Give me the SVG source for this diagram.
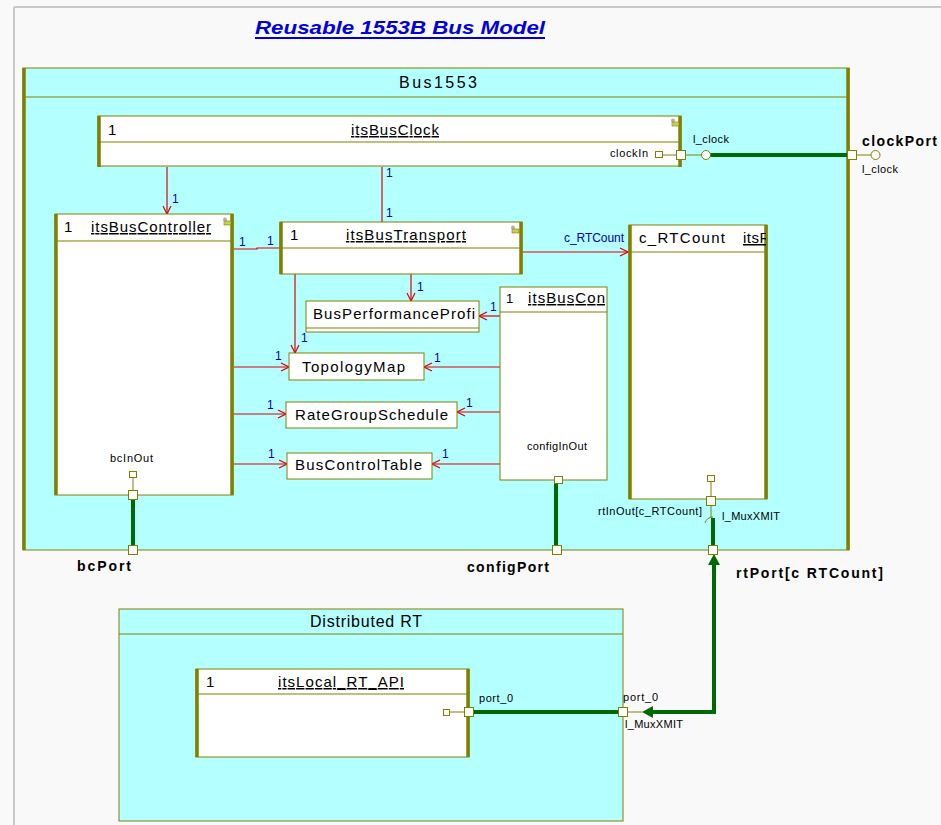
<svg xmlns="http://www.w3.org/2000/svg" width="941" height="825" viewBox="0 0 941 825">
<defs>
<style>
.t{font-family:"Liberation Sans",Arial,sans-serif;fill:#000}
.tt{font-size:15px}
.sm{font-size:11px}
.u{text-decoration:underline}
.bl{font-family:"Liberation Sans",Arial,sans-serif;font-size:12px;fill:#0000b0}
.bp{font-family:"Liberation Sans",Arial,sans-serif;font-size:14px;font-weight:bold;fill:#000}
.frame{fill:#b4ffff;stroke:#808000;stroke-width:1}
.box{fill:#fff;stroke:#808000;stroke-width:1}
.hl{stroke:#808000;stroke-width:1.2;fill:none}
.thick{stroke:#808000;stroke-width:3.5;fill:none}
.red{stroke:#e00000;stroke-width:1.2;fill:none}
.redA{stroke:#e00000;stroke-width:1.2;fill:none;marker-end:url(#open)}
.grn{stroke:#006a00;stroke-width:4;fill:none}
.pin{stroke:#808000;stroke-width:1;fill:none}
.ps{fill:#fff;stroke:#808000;stroke-width:1}
</style>
<marker id="open" viewBox="0 0 10 10" refX="9" refY="5" markerWidth="10" markerHeight="10" markerUnits="userSpaceOnUse" orient="auto">
<path d="M1,1 L9,5 L1,9" fill="none" stroke="#e00000" stroke-width="1.2"/>
</marker>
<clipPath id="clipRT"><rect x="629" y="226" width="137" height="26"/></clipPath>
<clipPath id="clipBC"><rect x="501" y="288" width="105" height="24"/></clipPath>
<g id="icon"><circle cx="3" cy="2.5" r="2" fill="#b0b0b0"/><rect x="2" y="4" width="7" height="4" fill="#c8d050" stroke="#808000" stroke-width="0.6"/></g>
</defs>

<rect x="0" y="0" width="941" height="825" fill="#f9f9f9"/>
<line x1="14" y1="7" x2="941" y2="7" stroke="#c8c8c8" stroke-width="2"/>
<line x1="14" y1="7" x2="14" y2="825" stroke="#c8c8c8" stroke-width="2"/>

<g id="title">
<text x="255" y="34" font-family="Liberation Sans,Arial,sans-serif" font-size="19" font-weight="bold" font-style="italic" fill="#0000dd" textLength="290" lengthAdjust="spacingAndGlyphs">Reusable 1553B Bus Model</text>
<line x1="255" y1="38" x2="545" y2="38" stroke="#0000dd" stroke-width="2"/>
</g>

<g id="Bus1553">
<rect class="frame" x="23" y="68" width="826" height="482"/>
<line class="hl" x1="23" y1="97" x2="849" y2="97"/>
<line class="thick" x1="24" y1="68" x2="24" y2="550"/>
<line class="thick" x1="848" y1="68" x2="848" y2="550"/>
<text class="t" x="399" y="88" font-size="16" textLength="78" lengthAdjust="spacing">Bus1553</text>
</g>

<g id="DistributedRT">
<rect class="frame" x="119" y="609" width="504" height="212"/>
<line class="hl" x1="119" y1="634" x2="623" y2="634"/>
<text class="t" x="310" y="627" font-size="16" textLength="112" lengthAdjust="spacing">Distributed RT</text>
</g>

<g id="connectors">
<line class="redA" x1="167" y1="167" x2="167" y2="214"/>
<line class="red" x1="382" y1="167" x2="382" y2="222"/>
<polyline class="red" points="234,249 257,249 257,248 280,248"/>
<line class="redA" x1="523" y1="252" x2="628" y2="252"/>
<line class="redA" x1="411" y1="274" x2="411" y2="301"/>
<line class="redA" x1="295" y1="274" x2="295" y2="353"/>
<line class="redA" x1="234" y1="367" x2="289" y2="367"/>
<line class="redA" x1="234" y1="414" x2="286" y2="414"/>
<line class="redA" x1="234" y1="464" x2="287" y2="464"/>
<line class="redA" x1="500" y1="316" x2="479" y2="316"/>
<line class="redA" x1="500" y1="367" x2="424" y2="367"/>
<line class="redA" x1="500" y1="412" x2="457" y2="412"/>
<line class="redA" x1="500" y1="464" x2="432" y2="464"/>
<text class="bl" x="172" y="203">1</text>
<text class="bl" x="386" y="177">1</text>
<text class="bl" x="386" y="217">1</text>
<text class="bl" x="239" y="246">1</text>
<text class="bl" x="267" y="245">1</text>
<text class="bl" x="417" y="291">1</text>
<text class="bl" x="301" y="342">1</text>
<text class="bl" x="275" y="360">1</text>
<text class="bl" x="267" y="409">1</text>
<text class="bl" x="268" y="458">1</text>
<text class="bl" x="490" y="311">1</text>
<text class="bl" x="434" y="362">1</text>
<text class="bl" x="466" y="407">1</text>
<text class="bl" x="442" y="458">1</text>
<text class="bl" x="564" y="242" font-size="11" textLength="60" lengthAdjust="spacing">c_RTCount</text>

<line class="grn" x1="710" y1="155" x2="848" y2="155"/>
<line class="grn" x1="133" y1="500" x2="133" y2="546"/>
<line class="grn" x1="556" y1="483" x2="556" y2="546"/>
<line class="grn" x1="713" y1="518" x2="713" y2="546"/>
<polyline class="grn" points="653,712 714,712 714,563"/>
<polygon points="714,554 708,565 720,565" fill="#006a00"/>
<polygon points="642,712 653,706 653,718" fill="#006a00"/>
<line class="grn" x1="473" y1="712" x2="619" y2="712"/>
<line class="pin" x1="627" y1="712" x2="642" y2="712"/>
</g>

<g id="itsBusClock">
<rect class="box" x="98" y="116" width="583" height="50"/>
<line class="hl" x1="98" y1="142" x2="681" y2="142"/>
<line class="thick" x1="99" y1="116" x2="99" y2="167"/>
<line class="thick" x1="680" y1="116" x2="680" y2="167"/>
<text class="t tt" x="108" y="135">1</text>
<text class="t tt u" x="351" y="135" textLength="88" lengthAdjust="spacing">itsBusClock</text>
<use href="#icon" x="670" y="118"/>
<text class="t sm" x="610" y="157" textLength="38" lengthAdjust="spacing">clockIn</text>
<rect class="ps" x="655.5" y="151.5" width="7" height="6"/>
<line class="pin" x1="662" y1="155" x2="677" y2="155"/>
<rect class="ps" x="676.5" y="150.5" width="9" height="9"/>
<line class="pin" x1="686" y1="155" x2="702" y2="155"/>
<circle cx="706" cy="155" r="4.5" fill="#fff" stroke="#808000"/>
<text class="t sm" x="693" y="143" textLength="36" lengthAdjust="spacing">l_clock</text>
</g>

<g id="clockPort">
<rect class="ps" x="847.5" y="150.5" width="9" height="9"/>
<line class="pin" x1="857" y1="155" x2="871" y2="155"/>
<circle cx="875.5" cy="155" r="4.5" fill="#fff" stroke="#808000"/>
<text class="bp" x="862" y="146" font-size="15" textLength="75" lengthAdjust="spacing">clockPort</text>
<text class="t sm" x="862" y="173" textLength="36" lengthAdjust="spacing">l_clock</text>
</g>

<g id="itsBusController">
<rect class="box" x="55" y="214" width="178" height="281"/>
<line class="hl" x1="55" y1="241" x2="233" y2="241"/>
<line class="thick" x1="56" y1="214" x2="56" y2="495"/>
<line class="thick" x1="232" y1="214" x2="232" y2="495"/>
<text class="t tt" x="64" y="232">1</text>
<text class="t tt u" x="91" y="232" textLength="120" lengthAdjust="spacing">itsBusController</text>
<use href="#icon" x="222" y="217"/>
<text class="t sm" x="110" y="462" textLength="43" lengthAdjust="spacing">bcInOut</text>
<rect class="ps" x="129.5" y="471.5" width="7" height="6"/>
<line class="pin" x1="133" y1="477" x2="133" y2="491"/>
<rect class="ps" x="128.5" y="490.5" width="9" height="9"/>
</g>

<g id="bcPort">
<rect class="ps" x="128.5" y="545.5" width="9" height="9"/>
<text class="bp" x="77" y="571" textLength="54" lengthAdjust="spacing">bcPort</text>
</g>

<g id="itsBusTransport">
<rect class="box" x="280" y="222" width="242" height="52"/>
<line class="hl" x1="280" y1="248" x2="522" y2="248"/>
<line class="thick" x1="281" y1="222" x2="281" y2="274"/>
<line class="thick" x1="521" y1="222" x2="521" y2="274"/>
<text class="t tt" x="290" y="240">1</text>
<text class="t tt u" x="346" y="240" textLength="120" lengthAdjust="spacing">itsBusTransport</text>
<use href="#icon" x="510" y="225"/>
</g>

<g id="c_RTCount">
<rect class="box" x="629" y="225" width="138" height="274"/>
<line class="hl" x1="629" y1="252" x2="767" y2="252"/>
<line class="thick" x1="630" y1="225" x2="630" y2="499"/>
<line class="thick" x1="766" y1="225" x2="766" y2="499"/>
<text class="t tt" x="639" y="243" textLength="86" lengthAdjust="spacing">c_RTCount</text>
<g clip-path="url(#clipRT)"><text class="t tt u" x="743" y="243" letter-spacing="0.5">itsRT</text></g>
<rect class="ps" x="707.5" y="475.5" width="7" height="6"/>
<line class="pin" x1="711" y1="481" x2="711" y2="497"/>
<rect class="ps" x="706.5" y="496.5" width="9" height="9"/>
<line class="pin" x1="711" y1="506" x2="711" y2="518"/>
<path d="M705,523 Q707,517 713,517" fill="none" stroke="#808000" stroke-width="1"/>
<text class="t sm" x="598" y="515" textLength="104" lengthAdjust="spacing">rtInOut[c_RTCount]</text>
<text class="t sm" x="722" y="520" textLength="58" lengthAdjust="spacing">l_MuxXMIT</text>
</g>

<g id="rtPort">
<rect class="ps" x="708.5" y="545.5" width="9" height="9"/>
<text class="bp" x="736" y="578" textLength="147" lengthAdjust="spacing">rtPort[c RTCount]</text>
</g>

<g id="itsBusCon">
<rect class="box" x="500" y="287" width="107" height="193"/>
<line class="hl" x1="500" y1="312" x2="607" y2="312"/>
<text class="t" x="506" y="303" font-size="13">1</text>
<g clip-path="url(#clipBC)"><text class="t tt u" x="528" y="303" textLength="77" lengthAdjust="spacing">itsBusCon</text></g>
<text class="t sm" x="527" y="450" textLength="60" lengthAdjust="spacing">configInOut</text>
<rect class="ps" x="554.5" y="476.5" width="8" height="7"/>
</g>

<g id="configPort">
<rect class="ps" x="552.5" y="545.5" width="9" height="9"/>
<text class="bp" x="467" y="572" textLength="82" lengthAdjust="spacing">configPort</text>
</g>

<g id="BusPerformanceProfi">
<rect class="box" x="306" y="301" width="173" height="31"/>
<line class="hl" x1="306" y1="328" x2="479" y2="328"/>
<text class="t tt" x="313" y="319" textLength="162" lengthAdjust="spacing">BusPerformanceProfi</text>
</g>

<g id="TopologyMap">
<rect class="box" x="289" y="353" width="135" height="27"/>
<text class="t tt" x="302" y="372" textLength="103" lengthAdjust="spacing">TopologyMap</text>
</g>

<g id="RateGroupSchedule">
<rect class="box" x="286" y="402" width="171" height="26"/>
<text class="t tt" x="295" y="420" textLength="153" lengthAdjust="spacing">RateGroupSchedule</text>
</g>

<g id="BusControlTable">
<rect class="box" x="287" y="453" width="145" height="26"/>
<text class="t tt" x="295" y="470" textLength="127" lengthAdjust="spacing">BusControlTable</text>
</g>

<g id="itsLocal_RT_API">
<rect class="box" x="196" y="669" width="273" height="88"/>
<line class="hl" x1="196" y1="694" x2="469" y2="694"/>
<line class="thick" x1="197" y1="669" x2="197" y2="757"/>
<line class="thick" x1="468" y1="669" x2="468" y2="757"/>
<text class="t tt" x="206" y="687">1</text>
<text class="t tt u" x="278" y="687" textLength="126" lengthAdjust="spacing">itsLocal_RT_API</text>
<rect class="ps" x="443.5" y="709.5" width="6" height="6"/>
<line class="pin" x1="449" y1="712" x2="465" y2="712"/>
<rect class="ps" x="464.5" y="707.5" width="9" height="9"/>
<text class="t sm" x="479" y="702" textLength="34" lengthAdjust="spacing">port_0</text>
</g>

<g id="port_0">
<rect class="ps" x="618.5" y="707.5" width="9" height="9"/>
<text class="t sm" x="623" y="701" textLength="35" lengthAdjust="spacing">port_0</text>
<text class="t sm" x="625" y="728" textLength="58" lengthAdjust="spacing">l_MuxXMIT</text>
</g>
</svg>
